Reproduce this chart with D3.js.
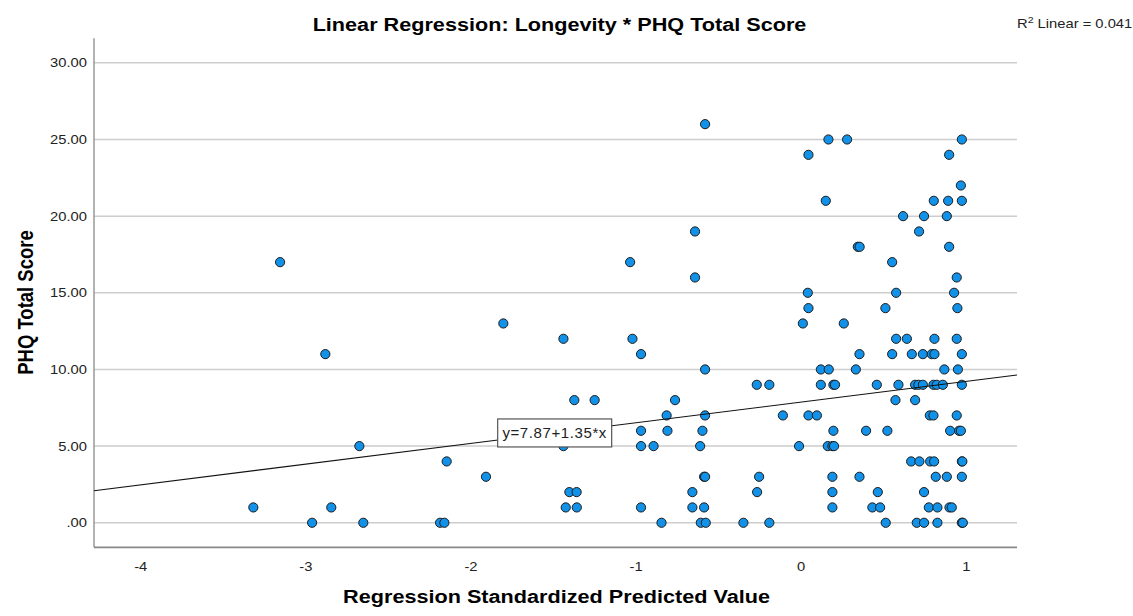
<!DOCTYPE html>
<html>
<head>
<meta charset="utf-8">
<script src="https://cdn.jsdelivr.net/npm/d3@7"></script>
<style>
  body { margin: 0; background: #fff; }
  text { font-family: "Liberation Sans", Arial, sans-serif; fill: #000; }
</style>
</head>
<body>
<svg id="chart" width="1133" height="616"></svg>
<script>
// regression standardized predicted value (x) and PHQ total score (y), one entry per case
const predicted = [
  -3.315, -2.959, -2.843, -2.649, -3.153, -2.879, -2.673, -2.184, -2.158, -2.144,
  -1.906, -1.801, -1.437, -1.437, -1.371, -1.248, -1.401, -1.357, -1.423, -1.356,
  -1.033, -1.019, -0.967, -0.967, -0.967, -0.891, -0.967, -0.843, -0.812, -0.807,
  -0.761, -0.579, -0.640, -0.640, -0.579, -0.579, -0.595, -0.609, -0.585, -0.579,
  -0.656, -0.656, -0.585, -0.605, -0.575, -0.347, -0.190, -0.266, -0.190, -0.108,
  -0.252, -0.264, -0.010, 0.013,
  0.168, 0.281, 0.976, 0.047, 0.899, 0.970, 0.152, 0.806, 0.893, 0.976,
  0.620, 0.747, 0.885, 0.717, 0.346, 0.357, 0.899, 0.554, 0.945, 0.043,
  0.578, 0.929, 0.047, 0.513, 0.949, 0.261,
  0.578, 0.643, 0.810, 0.945,
  0.356, 0.554, 0.673, 0.740, 0.794, 0.810, 0.976,
  0.122, 0.170, 0.334, 0.870, 0.952,
  0.122, 0.198, 0.208, 0.461, 0.592, 0.693, 0.713, 0.740, 0.804, 0.824, 0.861, 0.976,
  0.574, 0.693,
  0.047, 0.098, 0.782, 0.804, 0.945,
  0.198, 0.396, 0.525, 0.905, 0.959, 0.970,
  0.164, 0.192, 0.202,
  0.669, 0.719, 0.784, 0.808, 0.976, 0.979,
  0.192, 0.356, 0.818, 0.885, 0.976,
  0.192, 0.467, 0.747,
  0.192, 0.434, 0.481, 0.776, 0.828, 0.901, 0.915,
  0.515, 0.703, 0.747, 0.828, 0.976, 0.982
];

const phqScore = [
  1, 0, 1, 0, 17, 11, 5, 0, 0, 4,
  3, 13, 12, 5, 8, 8, 2, 2, 1, 1,
  17, 12, 11, 6, 5, 5, 1, 0, 7, 6,
  8, 26, 19, 16, 10, 7, 6, 5, 3, 3,
  2, 1, 1, 0, 0, 0, 0, 9, 9, 7,
  3, 2, 5, 13,
  25, 25, 25, 24, 24, 22, 21, 21, 21, 21,
  20, 20, 20, 19, 18, 18, 18, 17, 16, 15,
  15, 15, 14, 14, 14, 13,
  12, 12, 12, 12,
  11, 11, 11, 11, 11, 11, 11,
  10, 10, 10, 10, 10,
  9, 9, 9, 9, 9, 9, 9, 9, 9, 9, 9, 9,
  8, 8,
  7, 7, 7, 7, 7,
  6, 6, 6, 6, 6, 6,
  5, 5, 5,
  4, 4, 4, 4, 4, 4,
  3, 3, 3, 3, 3,
  2, 2, 2,
  1, 1, 1, 1, 1, 1, 1,
  0, 0, 0, 0, 0, 0
];

const xTicks = [-4, -3, -2, -1, 0, 1];
const yTicks = [0, 5, 10, 15, 20, 25, 30];

const intercept = 7.87;
const slope = 1.35;
const rSquared = 0.041;
const eqLabelAt = -1.49;

const svg = d3.select("#chart");
const SX = 1.17; // the reference text is drawn a little wide

const x = d3.scaleLinear().domain([-4.28, 1.31]).range([94, 1017]);
const y = d3.scaleLinear().domain([-1.6, 31.6]).range([547.3, 38.3]);

const yFmt = d => d === 0 ? ".00" : d.toFixed(2);

// gridlines
svg.append("g")
  .selectAll("line")
  .data(yTicks)
  .join("line")
  .attr("x1", x.range()[0])
  .attr("x2", x.range()[1])
  .attr("y1", d => y(d))
  .attr("y2", d => y(d))
  .attr("stroke", "#cdcdcd")
  .attr("stroke-width", 1.5);

// axes
const yAxis = svg.append("g")
  .attr("transform", `translate(${x.range()[0]},0)`)
  .call(d3.axisLeft(y).tickValues(yTicks).tickSize(0).tickPadding(6).tickFormat(yFmt));

yAxis.select(".domain").remove();
yAxis.selectAll("text")
  .attr("transform", `scale(${SX},1)`)
  .style("font-size", "12.6px")
  .style("fill", "#222");

const xAxis = svg.append("g")
  .attr("transform", `translate(0,${y.range()[0]})`)
  .call(d3.axisBottom(x).tickValues(xTicks).tickSize(0).tickFormat(d => String(d)));

xAxis.select(".domain").remove();
xAxis.selectAll("text")
  .attr("y", 24)
  .attr("dy", null)
  .attr("transform", `scale(${SX},1)`)
  .style("font-size", "12.6px")
  .style("fill", "#222");

svg.append("line")
  .attr("x1", x.range()[0]).attr("x2", x.range()[0])
  .attr("y1", y.range()[1]).attr("y2", y.range()[0])
  .attr("stroke", "#999").attr("stroke-width", 1.5);

svg.append("line")
  .attr("x1", x.range()[0]).attr("x2", x.range()[1])
  .attr("y1", y.range()[0]).attr("y2", y.range()[0])
  .attr("stroke", "#888").attr("stroke-width", 1.8);

// points
const points = predicted.map((p, i) => ({ p, s: phqScore[i] }));

svg.append("g")
  .selectAll("circle")
  .data(points)
  .join("circle")
  .attr("cx", d => x(d.p))
  .attr("cy", d => y(d.s))
  .attr("r", 4.6)
  .attr("fill", "#1192e8")
  .attr("stroke", "#1c1c1c")
  .attr("stroke-width", 1);

// fit line
const [x0, x1] = x.domain();
svg.append("line")
  .attr("x1", x(x0)).attr("y1", y(intercept + slope * x0))
  .attr("x2", x(x1)).attr("y2", y(intercept + slope * x1))
  .attr("stroke", "#111")
  .attr("stroke-width", 1.1);

// equation label
const eqX = x(eqLabelAt);
const eqY = y(intercept + slope * eqLabelAt);
const eq = svg.append("g").attr("transform", `translate(${eqX},${eqY})`);
eq.append("rect")
  .attr("x", -57).attr("y", -14)
  .attr("width", 114).attr("height", 28)
  .attr("fill", "#fff")
  .attr("stroke", "#555")
  .attr("stroke-width", 1.2);
eq.append("text")
  .attr("text-anchor", "middle")
  .attr("y", 5.5)
  .style("font-size", "15px")
  .style("letter-spacing", "0.6px")
  .style("fill", "#222")
  .text(`y=${intercept}+${slope}*x`);

// R squared
const r2 = svg.append("text")
  .attr("transform", `translate(1017,28) scale(${SX},1)`)
  .style("font-size", "12.6px")
  .style("fill", "#222");
r2.append("tspan").text("R");
r2.append("tspan").attr("dy", -5).style("font-size", "9px").text("2");
r2.append("tspan").attr("dy", 5).text(` Linear = ${rSquared.toFixed(3)}`);

// titles
svg.append("text")
  .attr("transform", `translate(559.5,31) scale(${SX},1)`)
  .attr("text-anchor", "middle")
  .style("font-size", "18.5px")
  .style("font-weight", "bold")
  .text("Linear Regression: Longevity * PHQ Total Score");

svg.append("text")
  .attr("transform", `translate(556.5,603) scale(${SX},1)`)
  .attr("text-anchor", "middle")
  .style("font-size", "18.5px")
  .style("font-weight", "bold")
  .text("Regression Standardized Predicted Value");

svg.append("text")
  .attr("transform", `translate(33,302.5) scale(${SX},1) rotate(-90)`)
  .attr("text-anchor", "middle")
  .style("font-size", "18.5px")
  .style("font-weight", "bold")
  .text("PHQ Total Score");
</script>
</body>
</html>
